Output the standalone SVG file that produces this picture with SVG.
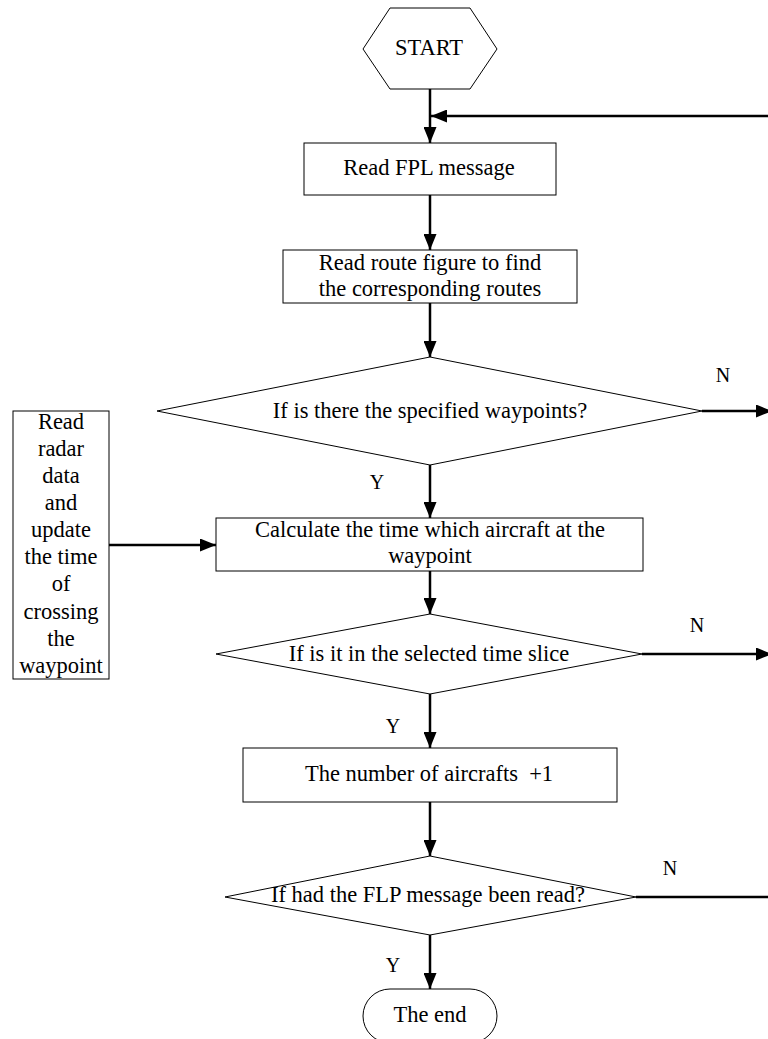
<svg xmlns="http://www.w3.org/2000/svg" width="768" height="1039" viewBox="0 0 768 1039">
<defs>
<style>
.shape{fill:#fff;stroke:#000;stroke-width:1}
.t{font-family:"Liberation Serif","Times New Roman",serif;font-size:22.5px;fill:#000;text-anchor:middle}
.lbl{font-family:"Liberation Serif","Times New Roman",serif;font-size:20px;fill:#000;text-anchor:middle}
.conn{fill:none;stroke:#000;stroke-width:2.5}
</style>
<marker id="arr" markerUnits="userSpaceOnUse" markerWidth="17" markerHeight="13" refX="16" refY="6.5" orient="auto">
<path d="M0,0 L16,6.5 L0,13 z" fill="#000"/>
</marker>
</defs>
<rect width="768" height="1039" fill="#fff"/>

<g id="start">
<polygon class="shape" points="363,49 390,8 470,8 497,49 470,89 390,89"/>
<text class="t" x="429" y="55">START</text>
</g>

<g id="read-fpl">
<rect class="shape" x="304" y="143" width="252" height="52"/>
<text class="t" x="429" y="175">Read FPL message</text>
</g>

<g id="read-route">
<rect class="shape" x="283" y="250" width="294" height="53"/>
<text class="t" x="430" y="270">Read route figure to find</text>
<text class="t" x="430" y="296">the corresponding routes</text>
</g>

<g id="decision-waypoints">
<polygon class="shape" points="430,357 702,411 430,465 157,411"/>
<text class="t" x="430" y="418">If is there the specified waypoints?</text>
</g>

<g id="radar">
<rect class="shape" x="13" y="411" width="96" height="268"/>
<text class="t" x="61" y="429">Read</text>
<text class="t" x="61" y="456">radar</text>
<text class="t" x="61" y="483">data</text>
<text class="t" x="61" y="510">and</text>
<text class="t" x="61" y="537">update</text>
<text class="t" x="61" y="564">the time</text>
<text class="t" x="61" y="591">of</text>
<text class="t" x="61" y="619">crossing</text>
<text class="t" x="61" y="646">the</text>
<text class="t" x="61" y="673">waypoint</text>
</g>

<g id="calculate">
<rect class="shape" x="216" y="518" width="427" height="53"/>
<text class="t" x="430" y="537">Calculate the time which aircraft at the</text>
<text class="t" x="430" y="563">waypoint</text>
</g>

<g id="decision-slice">
<polygon class="shape" points="430,614 642,654 430,694 216,654"/>
<text class="t" x="429" y="661">If is it in the selected time slice</text>
</g>

<g id="count">
<rect class="shape" x="243" y="748" width="374" height="54"/>
<text class="t" x="429" y="781" xml:space="preserve">The number of aircrafts  +1</text>
</g>

<g id="decision-read">
<polygon class="shape" points="430,856 636,897 430,935 225,897"/>
<text class="t" x="428" y="902">If had the FLP message been read?</text>
</g>

<g id="end">
<rect class="shape" x="363" y="989" width="134" height="54" rx="27" ry="27"/>
<text class="t" x="430" y="1022">The end</text>
</g>

<g id="connectors">
<line class="conn" x1="430" y1="89" x2="430" y2="143" marker-end="url(#arr)"/>
<line class="conn" x1="770" y1="116" x2="431" y2="116" marker-end="url(#arr)"/>
<line class="conn" x1="430" y1="195" x2="430" y2="250" marker-end="url(#arr)"/>
<line class="conn" x1="430" y1="303" x2="430" y2="357" marker-end="url(#arr)"/>
<line class="conn" x1="702" y1="411" x2="772" y2="411" marker-end="url(#arr)"/>
<line class="conn" x1="430" y1="465" x2="430" y2="518" marker-end="url(#arr)"/>
<line class="conn" x1="109" y1="545" x2="216" y2="545" marker-end="url(#arr)"/>
<line class="conn" x1="430" y1="571" x2="430" y2="614" marker-end="url(#arr)"/>
<line class="conn" x1="642" y1="654" x2="772" y2="654" marker-end="url(#arr)"/>
<line class="conn" x1="430" y1="694" x2="430" y2="748" marker-end="url(#arr)"/>
<line class="conn" x1="430" y1="802" x2="430" y2="856" marker-end="url(#arr)"/>
<line class="conn" x1="636" y1="897" x2="770" y2="897"/>
<line class="conn" x1="430" y1="935" x2="430" y2="989" marker-end="url(#arr)"/>
</g>

<g id="labels">
<text class="lbl" x="723" y="382">N</text>
<text class="lbl" x="697" y="632">N</text>
<text class="lbl" x="670" y="875">N</text>
<text class="lbl" x="377" y="489">Y</text>
<text class="lbl" x="393" y="733">Y</text>
<text class="lbl" x="393" y="972">Y</text>
</g>
</svg>
